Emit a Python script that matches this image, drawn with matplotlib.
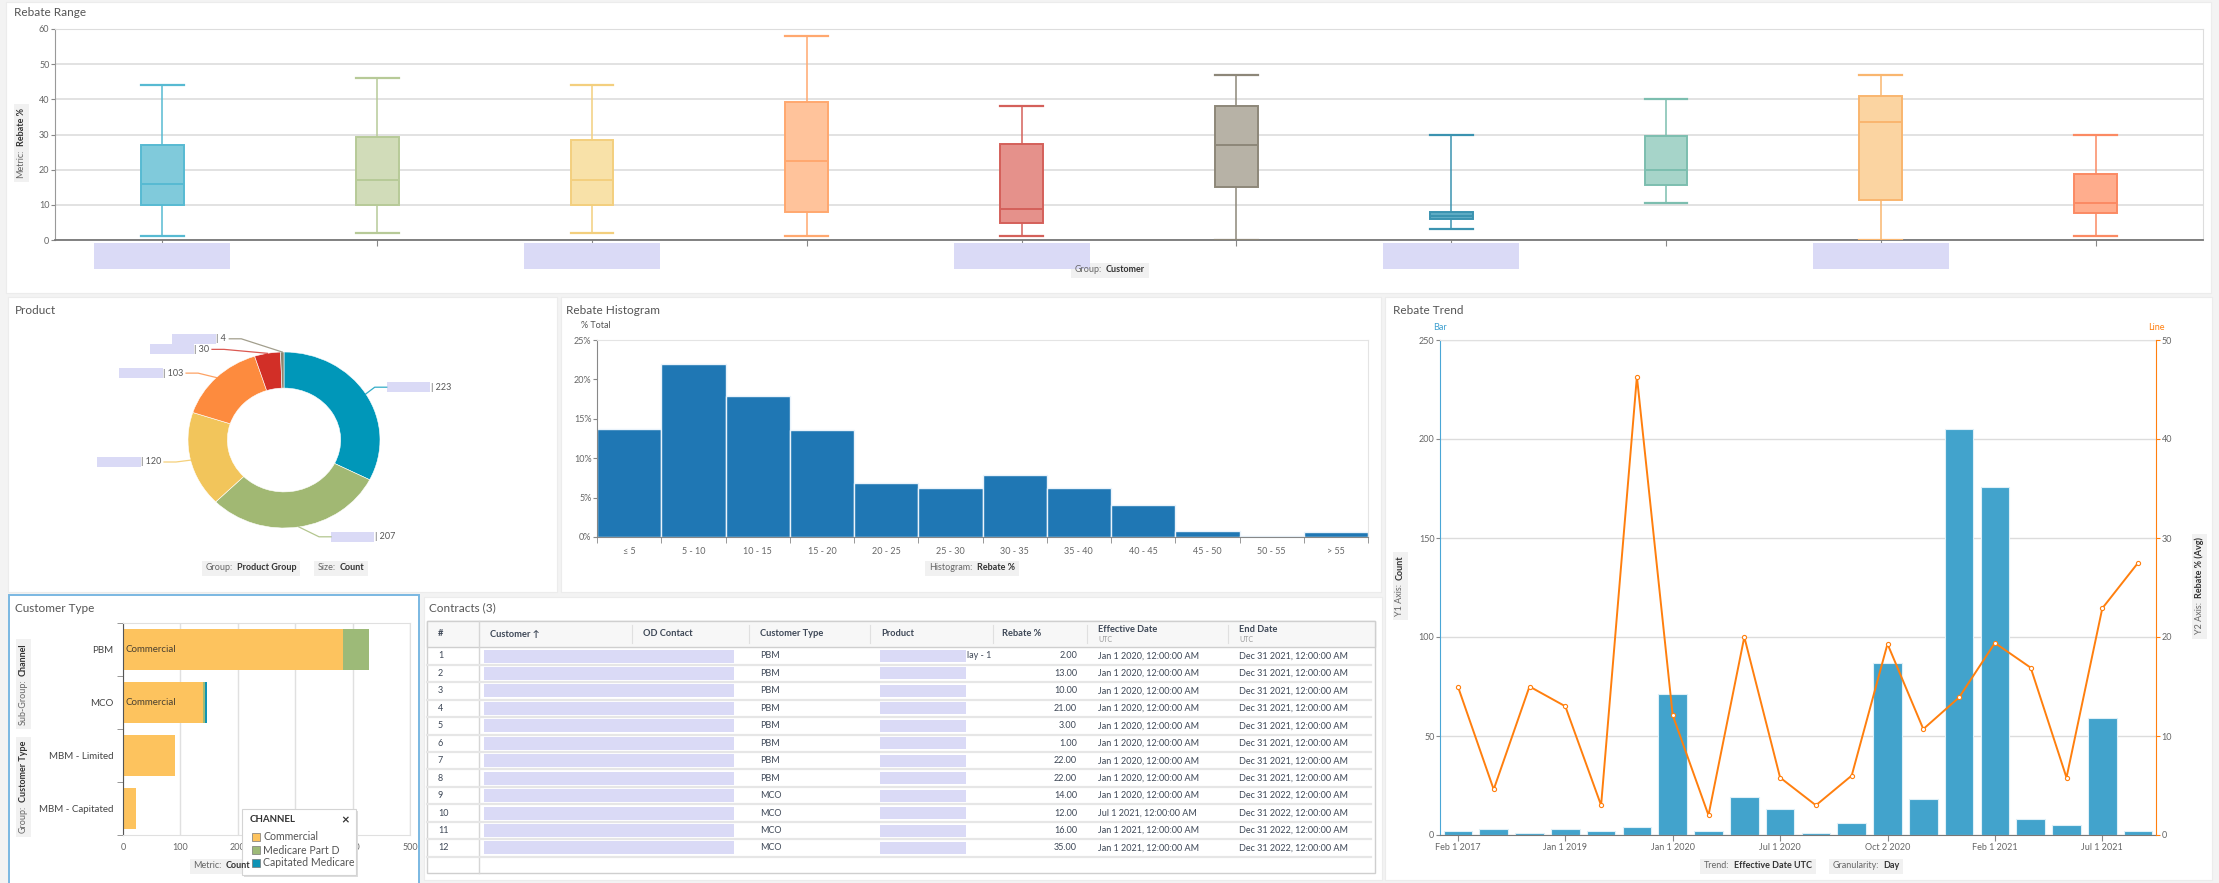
import matplotlib

matplotlib.use("Agg")

import matplotlib.pyplot as plt  # noqa: E402
import numpy as np  # noqa: E402
from matplotlib.patches import Rectangle  # noqa: E402
from matplotlib.ticker import FixedLocator, FuncFormatter  # noqa: E402

W, H = 2219, 883
plt.rcParams.update({
    "font.family": ["Lato", "DejaVu Sans"],
    "font.size": 7,
    "axes.edgecolor": "#bbbbbb",
    "xtick.color": "#888888",
    "ytick.color": "#888888",
    "xtick.labelcolor": "#666666",
    "ytick.labelcolor": "#666666",
})

# --- rebate range per customer (box plot)
range_low = [1, 2, 2, 1, 1, 0, 3, 10.5, 0, 1]
range_q1 = [10, 10, 10, 8, 4.8, 15, 6, 15.7, 11.3, 7.6]
range_med = [16, 17, 17, 22.4, 8.9, 27.1, 6.9, 19.9, 33.5, 10.4]
range_q3 = [27, 29.2, 28.4, 39.1, 27.2, 38.1, 8, 29.7, 41, 18.9]
range_high = [44, 46, 44, 58, 38, 47, 30, 40, 47, 30]
range_fill = ["#80cadb", "#d1dcb9", "#f8e1a8", "#ffc39b", "#e5918b",
              "#b7b2a6", "#5eabc4", "#a6d4c9", "#fbd4a1", "#ffad8d"]
range_edge = ["#57bad2", "#b7ca98", "#f3cf7e", "#ffa86f", "#d4605a",
              "#8d8779", "#3b93b0", "#7cbeaf", "#f9b66f", "#fb8a63"]

# --- product group donut
product_counts = [223, 207, 120, 103, 30, 4]
product_colors = ["#0097b9", "#a1b873", "#f2c55b", "#fd8b3e", "#d22f27", "#8b8670"]

# --- rebate histogram
hist_bins = ["\u2264 5", "5 - 10", "10 - 15", "15 - 20", "20 - 25", "25 - 30",
             "30 - 35", "35 - 40", "40 - 45", "45 - 50", "50 - 55", "> 55"]
hist_pct = [13.7, 21.9, 17.9, 13.6, 6.8, 6.25, 7.9, 6.25, 4.05, 0.76, 0.17, 0.6]

# --- rebate trend
trend_count = [2, 3, 1, 3, 2, 4, 71, 2, 19, 13, 1, 6, 87, 18, 205, 176, 8, 5, 59, 2]
trend_rebate = [15.0, 4.6, 15.0, 13.0, 3.0, 46.3, 12.1, 2.0, 20.0, 5.8,
                3.0, 6.0, 19.3, 10.7, 13.9, 19.4, 16.9, 5.8, 22.9, 27.5]
trend_ticks = ["Feb 1 2017", "", "", "Jan 1 2019", "", "", "Jan 1 2020", "", "",
               "Jul 1 2020", "", "", "Oct 2 2020", "", "", "Feb 1 2021", "", "",
               "Jul 1 2021", ""]

# --- customer type by channel
cust_types = ["PBM", "MCO", "MBM - Limited", "MBM - Capitated"]
channels = ["Commercial", "Medicare Part D", "Capitated Medicare"]
channel_colors = ["#fdc35e", "#9dba78", "#0e93b5"]
cust_commercial = [383, 139, 90, 23]
cust_partd = [45, 4, 0, 0]
cust_capitated = [0, 3, 0, 0]

# --- contracts table
contract_type = ["PBM"] * 8 + ["MCO"] * 4
contract_rebate = [2, 13, 10, 21, 3, 1, 22, 22, 14, 12, 16, 35]
contract_start = ["Jan 1 2020, 12:00:00 AM"] * 9 + ["Jul 1 2021, 12:00:00 AM"] + \
                 ["Jan 1 2021, 12:00:00 AM"] * 2
contract_end = ["Dec 31 2021, 12:00:00 AM"] * 8 + ["Dec 31 2022, 12:00:00 AM"] * 4

REDACT = "#dadaf6"
TITLE = "#555555"


def px_axes(l, t, r, b, **kw):
    return fig.add_axes([l / W, 1 - b / H, (r - l) / W, (b - t) / H], **kw)


def to_px(ax, x, y):
    dx, dy = ax.transData.transform((x, y))
    return dx, H - dy


fig = plt.figure(figsize=(W / 100, H / 100), dpi=100, facecolor="#f3f3f3")

bg = px_axes(0, 0, W, H)
bg.set_xlim(0, W)
bg.set_ylim(H, 0)
bg.axis("off")
for l, t, r, b in [(6, 2, 2211, 293), (8, 297, 557, 592), (561, 297, 1381, 592),
                   (1385, 297, 2212, 880), (424, 597, 1382, 880)]:
    bg.add_patch(Rectangle((l, t), r - l, b - t, fc="white", ec="#ececec", lw=0.8))
bg.add_patch(Rectangle((9, 595), 410, 300, fc="white", ec="#7ab8e2", lw=1.4))

# ---------------- Rebate Range
ax_rng = px_axes(55, 29, 2203, 240)
stats = [dict(whislo=lo, q1=q1, med=md, q3=q3, whishi=hi, fliers=[])
         for lo, q1, md, q3, hi in zip(range_low, range_q1, range_med, range_q3, range_high)]
bp = ax_rng.bxp(stats, positions=range(len(stats)), widths=0.2, capwidths=0.2,
                patch_artist=True, showfliers=False, manage_ticks=False)
for i, box in enumerate(bp["boxes"]):
    box.set(facecolor=range_fill[i], edgecolor=range_edge[i], linewidth=1.4, zorder=3)
    bp["medians"][i].set(color=range_edge[i], linewidth=1.4, zorder=4)
    for part in ("whiskers", "caps"):
        for line in bp[part][2 * i:2 * i + 2]:
            line.set(color=range_edge[i], linewidth=1.1, zorder=3)
    for cap in bp["caps"][2 * i:2 * i + 2]:
        cap.set_linewidth(1.6)
ax_rng.set_xlim(-0.5, len(stats) - 0.5)
ax_rng.set_ylim(0, 60)
ax_rng.set_yticks(range(0, 61, 10))
ax_rng.set_xticks(range(len(stats)))
ax_rng.set_xticklabels([])
ax_rng.grid(axis="y", color="#e2e2e2", linewidth=1.4, zorder=0)
ax_rng.set_axisbelow(True)
ax_rng.spines["left"].set_color("#999999")
ax_rng.spines["bottom"].set_color("#777777")
ax_rng.spines["bottom"].set_linewidth(1.3)
for s in ("top", "right"):
    ax_rng.spines[s].set_color("#dddddd")
ax_rng.tick_params(axis="y", length=3, labelsize=6.5, pad=1)
ax_rng.tick_params(axis="x", length=4)

# ---------------- Product donut
ax_pie = px_axes(188, 352, 380, 528)
wedges, _ = ax_pie.pie(product_counts, colors=product_colors, startangle=90,
                       counterclock=False, radius=1.0,
                       wedgeprops=dict(width=0.41, edgecolor="white", linewidth=0.4))
ax_pie.set_aspect("auto")
ax_pie.set_xlim(-1, 1)
ax_pie.set_ylim(-1, 1)
ax_pie.axis("off")
# label anchors for each slice (x, y in donut units; negative x = label on the left)
pie_label_pos = [(1.07, 0.60), (0.49, -1.10), (-1.25, -0.25),
                 (-1.02, 0.76), (-0.75, 1.03), (-0.57, 1.15)]

# ---------------- Rebate Histogram
ax_h = px_axes(597, 340, 1368, 537)
xh = np.arange(len(hist_pct))
ax_h.bar(xh, hist_pct, width=1.0, color="#1f77b4", edgecolor="#eaf3fb", linewidth=1.0)
ax_h.set_xlim(-0.5, len(hist_pct) - 0.5)
ax_h.set_ylim(0, 25)
ax_h.set_yticks(range(0, 26, 5))
ax_h.yaxis.set_major_formatter(FuncFormatter(lambda v, _: f"{v:.0f}%"))
ax_h.set_xticks(xh)
ax_h.set_xticklabels(hist_bins)
ax_h.xaxis.set_minor_locator(FixedLocator(np.arange(-0.5, len(hist_pct), 1.0)))
ax_h.tick_params(axis="x", which="major", length=0, labelsize=6.5, pad=7)
ax_h.tick_params(axis="x", which="minor", length=4)
ax_h.tick_params(axis="y", length=3, labelsize=6.5, pad=1)
ax_h.spines["left"].set_color("#888888")
ax_h.spines["bottom"].set_color("#888888")
for s in ("top", "right"):
    ax_h.spines[s].set_color("#e4e4e4")

# ---------------- Rebate Trend
ax_t = px_axes(1440, 340, 2156, 835)
xt = np.arange(len(trend_count))
ax_t.bar(xt, trend_count, width=0.8, color="#42a3cc", edgecolor="#dff0f8", linewidth=0.8, zorder=2)
ax_t.set_xlim(-0.5, len(trend_count) - 0.5)
ax_t.set_ylim(0, 250)
ax_t.set_yticks(range(0, 251, 50))
ax_t.grid(axis="y", color="#dcdcdc", linewidth=1.0, zorder=0)
ax_t.set_axisbelow(True)
tick_idx = [i for i, t in enumerate(trend_ticks) if t]
ax_t.set_xticks(tick_idx)
ax_t.set_xticklabels([trend_ticks[i] for i in tick_idx])
ax_t.tick_params(axis="x", length=4, labelsize=6.5, pad=2)
ax_t.tick_params(axis="y", length=3, labelsize=6.5, pad=1)
ax_t.spines["left"].set_color("#4aa6d6")
ax_t.spines["bottom"].set_color("#777777")
ax_t.spines["top"].set_color("#e0e0e0")
ax_t.spines["right"].set_visible(False)
ax_t2 = ax_t.twinx()
ax_t2.plot(xt, trend_rebate, color="#ff7f0e", linewidth=1.4, marker="o", markersize=3,
           markerfacecolor="white", markeredgecolor="#ff7f0e", markeredgewidth=0.8)
ax_t2.set_ylim(0, 50)
ax_t2.set_yticks(range(0, 51, 10))
ax_t2.spines["right"].set_color("#ff7f0e")
for s in ("left", "top", "bottom"):
    ax_t2.spines[s].set_visible(False)
ax_t2.tick_params(axis="y", length=3, labelsize=6.5, pad=1, color="#ff7f0e")

# ---------------- Customer Type
ax_c = px_axes(123, 623, 410, 835)
yc = np.arange(len(cust_types))
left = np.zeros(len(cust_types))
for vals, col in zip([cust_commercial, cust_partd, cust_capitated], channel_colors):
    ax_c.barh(yc, vals, left=left, height=0.78, color=col, zorder=2)
    left += np.array(vals)
for i, v in enumerate(cust_commercial):
    if v > 120:
        ax_c.text(4, i, channels[0], va="center", ha="left", fontsize=7, color="#4a4030", zorder=3)
ax_c.set_ylim(len(cust_types) - 0.5, -0.5)
ax_c.set_xlim(0, 500)
ax_c.set_xticks(range(0, 501, 100))
ax_c.set_yticks(yc)
ax_c.set_yticklabels(cust_types)
ax_c.yaxis.set_minor_locator(FixedLocator(np.arange(-0.5, len(cust_types), 1.0)))
ax_c.tick_params(axis="y", which="major", length=0, labelsize=7, labelcolor="#444444", pad=7)
ax_c.tick_params(axis="y", which="minor", length=4)
ax_c.tick_params(axis="x", length=0, labelsize=6.5, pad=6)
ax_c.grid(axis="x", color="#e0e0e0", linewidth=1.0, zorder=0)
ax_c.set_axisbelow(True)
ax_c.spines["left"].set_color("#555555")
for s in ("top", "right", "bottom"):
    ax_c.spines[s].set_color("#e0e0e0")

# ---------------- overlay: titles, chips, labels, table
ov = px_axes(0, 0, W, H, zorder=5)
ov.set_xlim(0, W)
ov.set_ylim(H, 0)
ov.axis("off")
renderer = fig.canvas.get_renderer()


def chip(x, y, key, val, vertical=False, size=6.5):
    a = ov.text(0, 0, key, fontsize=size, color="#666666")
    b = ov.text(0, 0, val, fontsize=size, color="#333333", weight="bold")
    wa = a.get_window_extent(renderer).width + 4
    wb = b.get_window_extent(renderer).width
    total, hh, pad = wa + wb, 15, 4
    if not vertical:
        x0 = x - total / 2
        a.set(position=(x0, y), ha="left", va="center")
        b.set(position=(x0 + wa, y), ha="left", va="center")
        ov.add_patch(Rectangle((x0 - pad, y - hh / 2), total + 2 * pad, hh,
                               fc="#f1f1f1", ec="none", zorder=1))
    else:
        y0 = y + total / 2
        a.set(position=(x, y0), ha="center", va="bottom", rotation=90)
        b.set(position=(x, y0 - wa), ha="center", va="bottom", rotation=90)
        ov.add_patch(Rectangle((x - hh / 2, y0 - total - pad), hh, total + 2 * pad,
                               fc="#f1f1f1", ec="none", zorder=1))


def title(x, y, s):
    ov.text(x, y, s, fontsize=8.5, color=TITLE, ha="left", va="center")


title(14, 13, "Rebate Range")
title(15, 310, "Product")
title(566, 311, "Rebate Histogram")
title(1393, 311, "Rebate Trend")
title(15, 608, "Customer Type")
title(429, 608, "Contracts (3)")

# rebate range axis chips and redacted customer names
chip(21, 143, "Metric:", "Rebate %", vertical=True)
chip(1110, 270, "Group:", "Customer")
for i in range(0, len(stats), 2):
    cx, _ = to_px(ax_rng, i, 0)
    ov.add_patch(Rectangle((cx - 68, 243), 136, 26, fc=REDACT, ec="none"))

# donut labels with leader lines
for w, n, (lx, ly), col in zip(wedges, product_counts, pie_label_pos, product_colors):
    ang = np.deg2rad((w.theta1 + w.theta2) / 2)
    ex, ey = to_px(ax_pie, np.cos(ang), np.sin(ang))
    ax_, ay_ = to_px(ax_pie, lx, ly)
    side = 1 if lx > 0 else -1
    elbow = ax_ - side * 12
    ov.plot([ex, elbow, ax_], [ey, ay_, ay_], color=col, linewidth=0.9, alpha=0.8)
    if side > 0:
        ov.add_patch(Rectangle((ax_, ay_ - 5), 43, 10, fc=REDACT, ec="none"))
        ov.text(ax_ + 44, ay_, f"| {n}", fontsize=6.5, color="#555555", ha="left", va="center")
    else:
        t = ov.text(ax_ - 3, ay_, f"| {n}", fontsize=6.5, color="#555555", ha="right", va="center")
        tw = t.get_window_extent(renderer).width
        ov.add_patch(Rectangle((ax_ - 3 - tw - 44, ay_ - 5), 44, 10, fc=REDACT, ec="none"))
chip(251, 568, "Group:", "Product Group")
chip(341, 568, "Size:", "Count")

# histogram labels
ov.text(581, 326, "% Total", fontsize=6.5, color="#555555", ha="left", va="center")
chip(972, 568, "Histogram:", "Rebate %")

# trend labels
ov.text(1440, 327, "Bar", fontsize=6.5, color="#3fa0d0", ha="center", va="center")
ov.text(2156, 327, "Line", fontsize=6.5, color="#ff7f0e", ha="center", va="center")
chip(1400, 586, "Y1 Axis:", "Count", vertical=True)
chip(2199, 586, "Y2 Axis:", "Rebate % (Avg)", vertical=True)
chip(1758, 866, "Trend:", "Effective Date UTC")
chip(1866, 866, "Granularity:", "Day")

# customer type chips and channel legend
chip(23, 684, "Sub-Group:", "Channel", vertical=True)
chip(23, 787, "Group:", "Customer Type", vertical=True)
chip(222, 866, "Metric:", "Count")
ov.add_patch(Rectangle((244, 811), 114, 66, fc="#dddddd", ec="none", zorder=2))
ov.add_patch(Rectangle((242, 809), 114, 66, fc="white", ec="#d4d4d4", lw=0.8, zorder=2))
ov.text(250, 820, "CHANNEL", fontsize=7, weight="bold", color="#333333",
        ha="left", va="center", zorder=3)
ov.text(345, 820, "\u00d7", fontsize=9.5, weight="bold", color="#333333",
        ha="center", va="center", zorder=3)
for k, (name, col) in enumerate(zip(channels, channel_colors)):
    yy = 837 + k * 13
    ov.add_patch(Rectangle((251.5, yy - 4), 8, 8, fc=col, ec="#777777", lw=0.5, zorder=3))
    ov.text(263, yy, name, fontsize=7.6, color="#555555", ha="left", va="center", zorder=3)

# contracts table
TX = "#3d4756"
tl, tr, tt, th, tb = 427, 1375, 621, 647, 873
ov.add_patch(Rectangle((tl, tt), tr - tl, tb - tt, fc="white", ec="#cfcfcf", lw=1.0, zorder=1))
ov.add_patch(Rectangle((tl, tt), tr - tl, th - tt, fc="#f7f7f7", ec="#cfcfcf", lw=1.0, zorder=1))
ov.plot([479, 479], [tt, tb], color="#d6d6d6", linewidth=1.0, zorder=2)
for sx in (632, 749, 870, 993, 1087, 1228):
    ov.plot([sx, sx], [tt + 4, th - 4], color="#e0e0e0", linewidth=0.8, zorder=2)
hy = (tt + th) / 2
headers = [(438, "#"), (490, "Customer \u2191"), (643, "OD Contact"), (760, "Customer Type"),
           (881, "Product"), (1002, "Rebate %")]
for hx, s in headers:
    ov.text(hx, hy, s, fontsize=6.7, weight="bold", color=TX, ha="left", va="center", zorder=3)
for hx, s in [(1098, "Effective Date"), (1239, "End Date")]:
    ov.text(hx, hy - 5, s, fontsize=6.7, weight="bold", color=TX, ha="left", va="center", zorder=3)
    ov.text(hx, hy + 6, "UTC", fontsize=5, color="#999999", ha="left", va="center", zorder=3)
row_h = 17.45
for i in range(len(contract_rebate)):
    cy = 656 + i * row_h
    ov.plot([tl, tr - 4], [cy + row_h / 2, cy + row_h / 2], color="#e6e6e6", linewidth=1.6, zorder=2)
    ov.text(438, cy, str(i + 1), fontsize=6.5, color=TX, ha="left", va="center", zorder=3)
    ov.add_patch(Rectangle((484, cy - 6.5), 250, 13, fc=REDACT, ec="none", zorder=3))
    ov.text(760, cy, contract_type[i], fontsize=6.5, color=TX, ha="left", va="center", zorder=3)
    ov.add_patch(Rectangle((880, cy - 6), 86, 12, fc=REDACT, ec="none", zorder=3))
    ov.text(1077, cy, f"{contract_rebate[i]:.2f}", fontsize=6.5, color=TX,
            ha="right", va="center", zorder=3)
    ov.text(1098, cy, contract_start[i], fontsize=6.5, color=TX, ha="left", va="center", zorder=3)
    ov.text(1239, cy, contract_end[i], fontsize=6.5, color=TX, ha="left", va="center", zorder=3)
ov.text(967, 656, "lay - 1", fontsize=6.5, color=TX, ha="left", va="center", zorder=3)

fig.savefig("out.png", dpi=100, facecolor=fig.get_facecolor())
